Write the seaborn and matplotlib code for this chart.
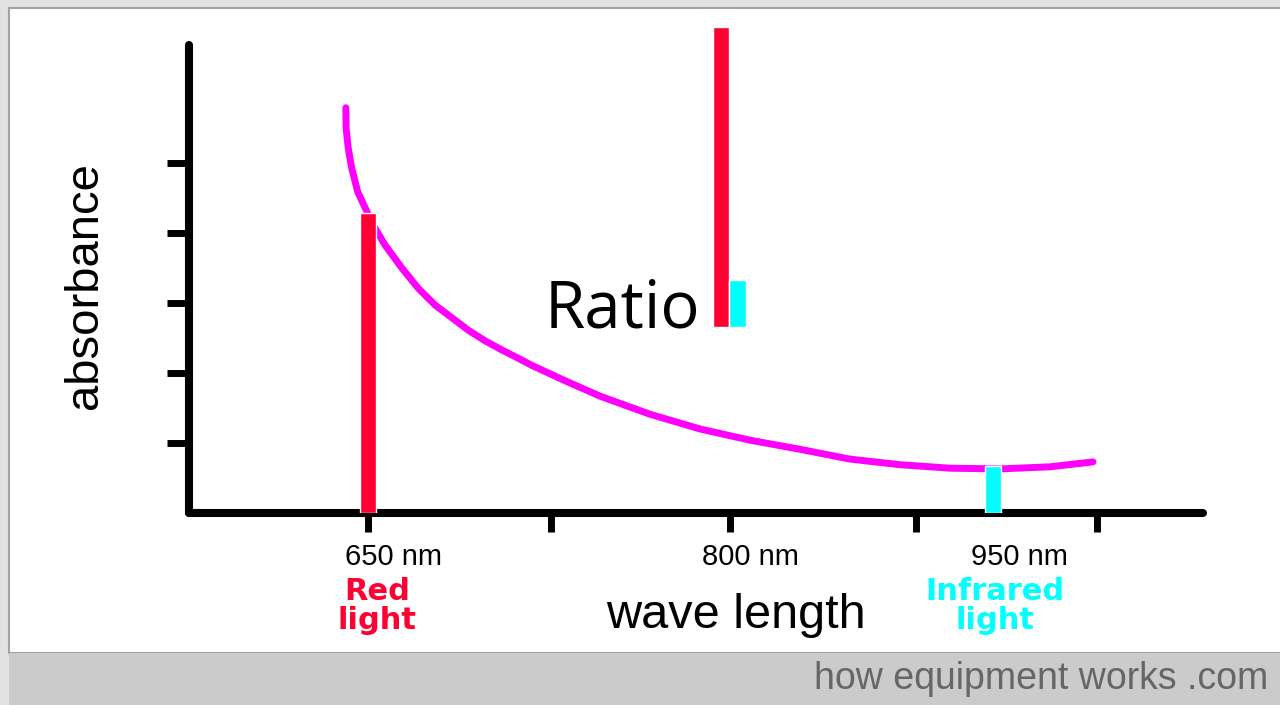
import numpy as np
import matplotlib.pyplot as plt
import seaborn as sns
import pandas as pd
from matplotlib.patches import Rectangle

# absorbance curve (wavelength in nm, absorbance in tick units)
wavelength = [640.8, 640.9, 641.8, 643.2, 645.7, 648.8, 652.2, 657.0, 664.0, 670.8,
              677.8, 684.7, 691.6, 698.5, 705.4, 712.3, 717.8, 731.6, 746.1, 766.9,
              787.6, 808.3, 829.0, 849.7, 870.4, 891.2, 911.9, 932.6, 950.4]
absorbance = [5.79, 5.50, 5.21, 4.93, 4.59, 4.36, 4.11, 3.83, 3.50, 3.21,
              2.97, 2.79, 2.61, 2.46, 2.33, 2.21, 2.11, 1.89, 1.67, 1.41,
              1.20, 1.04, 0.91, 0.77, 0.69, 0.64, 0.63, 0.66, 0.73]

# the two light sources
light_names = [["Red", "light"], ["Infrared", "light"]]
light_nm = [650, 909]
light_abs = [4.29, 0.67]
light_colors = ["#ff0033", "#00ffff"]

# ratio bars near 800 nm
ratio_nm = [796.3, 803.1]
ratio_base = 2.66

xticks = [650, 726, 800, 877, 952]
yticks = [1, 2, 3, 4, 5]
tick_names = ["650 nm", "800 nm", "950 nm"]
tick_name_x = [660.4, 808.3, 919.8]
light_name_x = [653.7, 909.8]

sns.set_theme(style="white")
plt.rcParams['font.family'] = ['Liberation Sans', 'DejaVu Sans']

fig = plt.figure(figsize=(12.8, 7.05), dpi=100)
fig.patch.set_facecolor('#e2e2e2')
fig.add_artist(Rectangle((8.5 / 1280, 52 / 705), 1, 645 / 705, transform=fig.transFigure,
                         facecolor='white', edgecolor='#9aa89a', lw=1.5, zorder=-2))
fig.add_artist(Rectangle((8.5 / 1280, 0), 1, 52 / 705, transform=fig.transFigure,
                         facecolor='#cbcbcb', edgecolor='none', zorder=-1))

ax = fig.add_axes([189 / 1280, 192 / 705, 1014 / 1280, 468 / 705])
ax.patch.set_alpha(0)

# curve
sns.lineplot(x=wavelength, y=absorbance, sort=False, color='#ff00ff', linewidth=5,
             solid_capstyle='round', solid_joinstyle='round', ax=ax, zorder=2)

# bars at the two wavelengths and the ratio pair
ax.bar(light_nm, light_abs, width=6.8, color=light_colors, zorder=3)
ax.bar(ratio_nm, light_abs, bottom=ratio_base, width=6.8, color=light_colors,
       zorder=3, clip_on=False)

ax.set_xlim(575.8, 996.0)
ax.set_ylim(0, 6.686)
ax.set_xticks(xticks)
ax.set_yticks(yticks)
ax.set_xticklabels([])
ax.set_yticklabels([])
ax.tick_params(axis='x', direction='out', length=13.5, width=5, color='black', bottom=True)
ax.tick_params(axis='y', direction='out', length=16, width=5, color='black', left=True)

sns.despine(ax=ax)
for side in ['left', 'bottom']:
    ax.spines[side].set_linewidth(5.8)
    ax.spines[side].set_color('black')
    ax.spines[side].set_capstyle('round')

# tick names and light names under the axis
for name, x in zip(tick_names, tick_name_x):
    ax.text(x, -0.743, name, ha='center', va='baseline', fontsize=21,
            color='black', clip_on=False)
for lines, x, c in zip(light_names, light_name_x, light_colors):
    ax.text(x, -1.243, lines[0], ha='center', va='baseline', fontsize=22,
            fontweight='bold', family='DejaVu Sans', color=c, clip_on=False)
    ax.text(x, -1.657, lines[1], ha='center', va='baseline', fontsize=22,
            fontweight='bold', family='DejaVu Sans', color=c, clip_on=False)

ax.set_xlabel('wave length', fontsize=35, color='black', va='baseline')
ax.xaxis.set_label_coords((736 - 189) / 1014, (513 - 628) / 468)
ax.set_ylabel('absorbance', fontsize=34, color='black', va='center')
ax.yaxis.set_label_coords((85 - 189) / 1014, (513 - 286) / 468)

ax.text(787.6, 2.643, 'Ratio', ha='right', va='baseline', fontsize=47,
        family=['Open Sans', 'DejaVu Sans'], color='black')

fig.text(1268 / 1280, 16 / 705, 'how equipment works .com', ha='right', va='baseline',
         fontsize=27, color='#666666')

plt.savefig('out.png', dpi=100)
